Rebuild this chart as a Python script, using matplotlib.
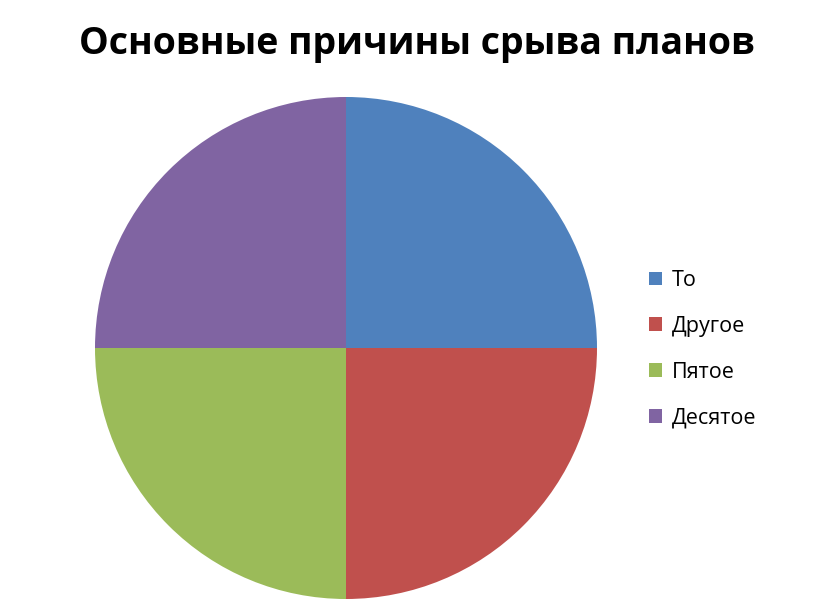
import matplotlib
matplotlib.use("Agg")
import matplotlib.pyplot as plt

title = "Основные причины срыва планов"
categories = ["То", "Другое", "Пятое", "Десятое"]
values = [1, 1, 1, 1]
colors = ["#4F81BD", "#C0504D", "#9BBB59", "#8064A2"]

plt.rcParams['font.family'] = ['Open Sans', 'DejaVu Sans']

W, H = 824, 616
fig = plt.figure(figsize=(W / 100, H / 100), dpi=100)
fig.patch.set_facecolor("white")

cx, cy, r = 346, 348, 251
ax = fig.add_axes([(cx - r) / W, (H - cy - r) / H, 2 * r / W, 2 * r / H])
wedges, _ = ax.pie(values, colors=colors, startangle=90, counterclock=False,
                   radius=1, wedgeprops=dict(linewidth=0))
ax.set_xlim(-1, 1)
ax.set_ylim(-1, 1)
ax.axis("off")

fig.text(417 / W, 1 - 44 / H, title, ha="center", va="center",
         fontsize=27, fontweight="bold", color="black")

fig.legend(wedges, categories, loc="upper left",
           bbox_to_anchor=(649 / W, 1 - 270 / H), frameon=False,
           fontsize=15.5, handlelength=0.6, handleheight=0.6,
           handletextpad=0.45, labelspacing=1.15, borderaxespad=0,
           borderpad=0)

fig.savefig("out.png", dpi=100, facecolor="white")
